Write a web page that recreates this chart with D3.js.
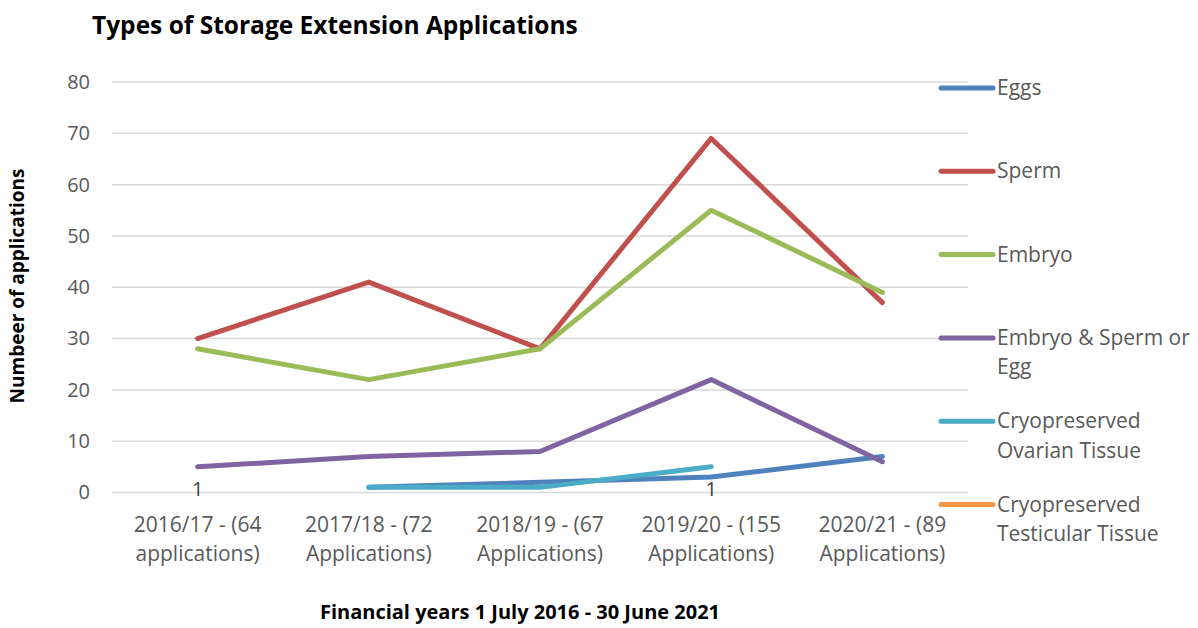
<!DOCTYPE html>
<html><head><meta charset="utf-8">
<script src="https://cdn.jsdelivr.net/npm/d3@7"></script>
<style>body{margin:0;background:#fff;} text{font-family:"Open Sans",sans-serif;}</style>
</head><body><svg id="c" width="1198" height="628"></svg>
<script>
const categories = ["2016/17 - (64|applications)","2017/18 - (72|Applications)","2018/19 - (67|Applications)","2019/20 - (155|Applications)","2020/21 - (89|Applications)"];
const eggs = [null, 1, 2, 3, 7];
const sperm = [30, 41, 28, 69, 37];
const embryo = [28, 22, 28, 55, 39];
const embryoSpermEgg = [5, 7, 8, 22, 6];
const ovarian = [null, 1, 1, 5, null];
const testicular = [null, null, null, null, null];
const testicularLabels = ["1", null, null, "1", null];
const yTicks = [0,10,20,30,40,50,60,70,80];

const series = [
  {name:["Eggs"], values:eggs, color:"#4f81bd"},
  {name:["Sperm"], values:sperm, color:"#c0504d"},
  {name:["Embryo"], values:embryo, color:"#9bbb59"},
  {name:["Embryo & Sperm or","Egg"], values:embryoSpermEgg, color:"#8064a2"},
  {name:["Cryopreserved","Ovarian Tissue"], values:ovarian, color:"#4bacc6"},
  {name:["Cryopreserved","Testicular Tissue"], values:testicular, color:"#f79646"}
];

const FONT = "'Open Sans',sans-serif";
const svg = d3.select("#c");
const x = d3.scaleBand().domain(categories).range([112, 968]);
const y = d3.scaleLinear().domain([0, 80]).range([492.5, 82]);

// gridlines
svg.append("g").selectAll("line").data(yTicks).join("line")
  .attr("x1",112).attr("x2",968).attr("y1",d=>y(d)).attr("y2",d=>y(d))
  .attr("stroke","#d9d9d9").attr("stroke-width",1.5);

// y axis labels
const ya = svg.append("g").attr("transform","translate(90,0)")
  .call(d3.axisLeft(y).tickValues(yTicks).tickSize(0).tickPadding(0));
ya.select(".domain").remove();
ya.selectAll("text").attr("fill","#595959").style("font-size","20px").style("font-family",FONT);

// x axis labels
const xa = svg.append("g").attr("transform","translate(0,492.5)")
  .call(d3.axisBottom(x).tickSize(0).tickPadding(0));
xa.select(".domain").remove();
xa.selectAll("text").attr("dy",null).each(function(d){
  const t = d3.select(this); t.text(null).attr("y",0);
  d.split("|").forEach((s,i)=>t.append("tspan").attr("x",0).attr("y",39+i*29).text(s));
}).attr("fill","#595959").style("font-size","21px").style("font-family",FONT);

// lines
const cx = c => x(c) + x.bandwidth()/2;
const line = d3.line().defined(d=>d.v!=null).x(d=>cx(d.c)).y(d=>y(d.v));
series.forEach(s=>{
  svg.append("path").datum(categories.map((c,i)=>({c, v:s.values[i]})))
    .attr("d", line).attr("fill","none").attr("stroke",s.color)
    .attr("stroke-width",5).attr("stroke-linecap","round").attr("stroke-linejoin","round");
});

// data labels
svg.append("g").selectAll("text").data(categories.map((c,i)=>({c,l:testicularLabels[i]})).filter(d=>d.l))
  .join("text").attr("x",d=>cx(d.c)).attr("y",y(0)+3).attr("text-anchor","middle")
  .attr("fill","#404040").style("font-size","20px").text(d=>d.l);

// legend
series.forEach((s,i)=>{
  const ly = 88 + i*83.3;
  svg.append("line").attr("x1",941).attr("x2",993).attr("y1",ly).attr("y2",ly)
    .attr("stroke",s.color).attr("stroke-width",5).attr("stroke-linecap","round");
  s.name.forEach((n,j)=>svg.append("text").attr("x",997).attr("y",ly+7+j*29.5)
    .attr("fill","#595959").style("font-size","21px").text(n));
});

// titles
svg.append("text").attr("x",92).attr("y",34).style("font-size","24.5px").style("font-weight","bold")
  .attr("fill","#000").text("Types of Storage Extension Applications");
svg.append("text").attr("transform","translate(24,286) rotate(-90)").attr("text-anchor","middle")
  .style("font-size","19px").style("font-weight","bold").attr("fill","#000").text("Numbeer of applications");
svg.append("text").attr("x",520).attr("y",619).attr("text-anchor","middle")
  .style("font-size","20px").style("font-weight","bold").attr("fill","#000").text("Financial years 1 July 2016 - 30 June 2021");
</script></body></html>
